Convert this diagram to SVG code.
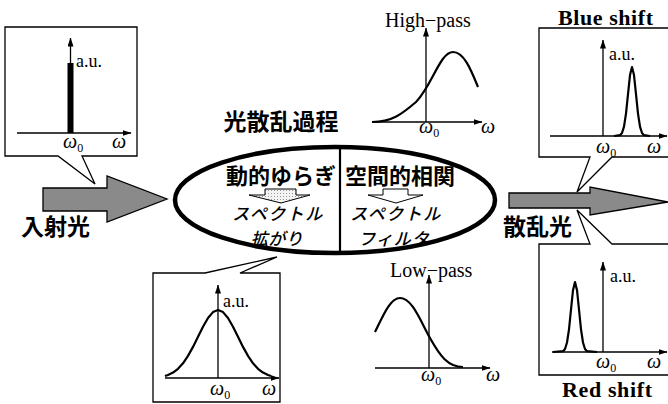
<svg xmlns="http://www.w3.org/2000/svg" width="668" height="404" viewBox="0 0 668 404">
<defs>
<marker id="ah" viewBox="0 0 9 6" refX="8.5" refY="3" markerWidth="9" markerHeight="6" markerUnits="userSpaceOnUse" orient="auto">
<path d="M0,0 L9,3 L0,6 z" fill="#000"/>
</marker>
<pattern id="dots" width="3" height="3" patternUnits="userSpaceOnUse">
<rect width="3" height="3" fill="#f4f4f4"/>
<rect x="1" y="1" width="1" height="1" fill="#999"/>
</pattern>
</defs>
<style>
.box{fill:#fff;stroke:#000;stroke-width:1.3;stroke-linejoin:miter}
.ax{fill:none;stroke:#000;stroke-width:1.3}
.axa{fill:none;stroke:#000;stroke-width:1.3;marker-end:url(#ah)}
.cv{fill:none;stroke:#000;stroke-width:2.2;stroke-linejoin:round}
.big{fill:#8a8a8a;stroke:#000;stroke-width:1.3}
.ser{font-family:"Liberation Serif",serif;fill:#000}
.om{font-family:"Liberation Serif",serif;font-style:italic;font-size:20px;fill:#000}
.sub{font-family:"Liberation Serif",serif;font-style:normal;font-size:12px}
.jp{font-family:"Noto Sans CJK JP","Noto Sans CJK SC",sans-serif;font-weight:bold;fill:#000}
.jpi{font-family:"Noto Sans CJK JP","Noto Sans CJK SC",sans-serif;font-style:italic;font-weight:500;font-size:17px;fill:#000;text-anchor:middle}
</style>
<rect width="668" height="404" fill="#fff"/>

<g id="connectors">
<path id="input-arrow" class="big" d="M43,188 H107 V176 L167,199 L107,222 V211 H43 Z"/>
<path id="output-arrow" class="big" d="M509,193 H590 V187 L668,202 L590,215 V208 H509 Z"/>
</g>

<g id="incident-spectrum">
<path class="box" d="M5,27 H137 V156 H82 L95,184 L58,156 H5 Z"/>
<line class="axa" x1="17" y1="133" x2="131" y2="133"/>
<line class="axa" x1="70.5" y1="133" x2="70.5" y2="38"/>
<rect x="67.5" y="63" width="6" height="70" fill="#000"/>
<text class="ser" x="76" y="67" font-size="18">a.u.</text>
<text class="om" x="63" y="148">ω<tspan class="sub" dy="4">0</tspan></text>
<text class="om" x="112" y="148">ω</text>
</g>

<g id="input-label">
<text class="jp" x="21" y="235" font-size="23">入射光</text>
</g>

<g id="process-title">
<text class="jp" x="281" y="130" font-size="23" text-anchor="middle">光散乱過程</text>
</g>

<g id="process-ellipse">
<ellipse cx="335" cy="200" rx="160" ry="53" fill="none" stroke="#000" stroke-width="4.5"/>
<line x1="340" y1="148" x2="340" y2="253" stroke="#000" stroke-width="2.2"/>
<text class="jp" x="281" y="184" font-size="22" text-anchor="middle">動的ゆらぎ</text>
<text class="jp" x="400" y="184" font-size="22" text-anchor="middle">空間的相関</text>
<path d="M265,189 H296 V195 H310 L281,203 L249,195 H265 Z" fill="url(#dots)" stroke="#000" stroke-width="1"/>
<path d="M383,189 H408 V195 H423 L396,203 L368,195 H383 Z" fill="#fff" stroke="#000" stroke-width="1"/>
<text class="jpi" x="278" y="220" letter-spacing="1.5">スペクトル</text>
<text class="jpi" x="277" y="245" letter-spacing="0.5">拡がり</text>
<text class="jpi" x="396" y="220" letter-spacing="1.5">スペクトル</text>
<text class="jpi" x="394" y="245" letter-spacing="1">フィルタ</text>
</g>

<g id="high-pass">
<text class="ser" x="385" y="27" font-size="20">High−pass</text>
<line class="axa" x1="372" y1="122" x2="482" y2="122"/>
<line class="axa" x1="426" y1="122" x2="426" y2="28"/>
<path class="cv" d="M372,122 C392,122 402,114 416,102 C432,86 440,52 453,52 C464,52 471,70 478,87"/>
<text class="om" x="419" y="133">ω<tspan class="sub" dy="4">0</tspan></text>
<text class="om" x="481" y="133">ω</text>
</g>

<g id="low-pass">
<text class="ser" x="390" y="277" font-size="20">Low−pass</text>
<line class="axa" x1="375" y1="368" x2="490" y2="368"/>
<line class="axa" x1="429" y1="368" x2="429" y2="275"/>
<path class="cv" d="M375,332 C383,316 390,298 400,298 C412,298 420,320 430,338 C440,356 448,367 463,367"/>
<text class="om" x="421" y="381">ω<tspan class="sub" dy="4">0</tspan></text>
<text class="om" x="486" y="381">ω</text>
</g>

<g id="broadened-spectrum">
<path class="box" d="M153,273 H205 L277,257 L240,273 H280 V402 H153 Z"/>
<line class="axa" x1="165" y1="378" x2="279" y2="378"/>
<line class="axa" x1="218" y1="378" x2="218" y2="285"/>
<polyline class="cv" points="165,376 168,375 173,372.6 178,368.8 183,363.3 188,355.9 193,346.9 198,336.8 203,326.7 208,318 213,312.1 218,310 223,312.1 228,318 233,326.7 238,336.8 243,346.9 248,355.9 253,363.3 258,368.8 263,372.6 268,375 271,376"/>
<text class="ser" x="223" y="307" font-size="18">a.u.</text>
<text class="om" x="210" y="395">ω<tspan class="sub" dy="4">0</tspan></text>
<text class="om" x="262" y="395">ω</text>
</g>

<g id="blue-shift">
<text class="ser" x="558" y="25" font-size="22" font-weight="bold" textLength="95">Blue shift</text>
<path class="box" d="M539,28 H670 V157 H612 L577,192 L590,157 H539 Z"/>
<line class="axa" x1="550" y1="136" x2="667" y2="136"/>
<line class="axa" x1="603" y1="136" x2="603" y2="40"/>
<polyline class="cv" points="614,136 620,135.2 622,133 624,126.7 626,113.6 628,94.2 630,75.1 632,67 634,75.1 636,94.2 638,113.6 640,126.7 642,133 644,135.2 650,136"/>
<text class="ser" x="609" y="60" font-size="18">a.u.</text>
<text class="om" x="596" y="153">ω<tspan class="sub" dy="4">0</tspan></text>
<text class="om" x="647" y="153">ω</text>
</g>

<g id="red-shift">
<path class="box" d="M539,244 H590 L577,210 L612,244 H670 V375 H539 Z"/>
<line class="axa" x1="552" y1="352" x2="667" y2="352"/>
<line class="axa" x1="603" y1="352" x2="603" y2="262"/>
<polyline class="cv" points="553,352 563,351.2 565,349 567,342.5 569,329.3 571,309.5 573,290.2 575,282 577,290.2 579,309.5 581,329.3 583,342.5 585,349 587,351.2 597,352"/>
<text class="ser" x="610" y="282" font-size="18">a.u.</text>
<text class="om" x="596" y="368">ω<tspan class="sub" dy="4">0</tspan></text>
<text class="om" x="647" y="368">ω</text>
<text class="ser" x="562" y="397" font-size="22" font-weight="bold" textLength="90">Red shift</text>
</g>

<g id="output-label">
<text class="jp" x="503" y="235" font-size="23">散乱光</text>
</g>
</svg>
